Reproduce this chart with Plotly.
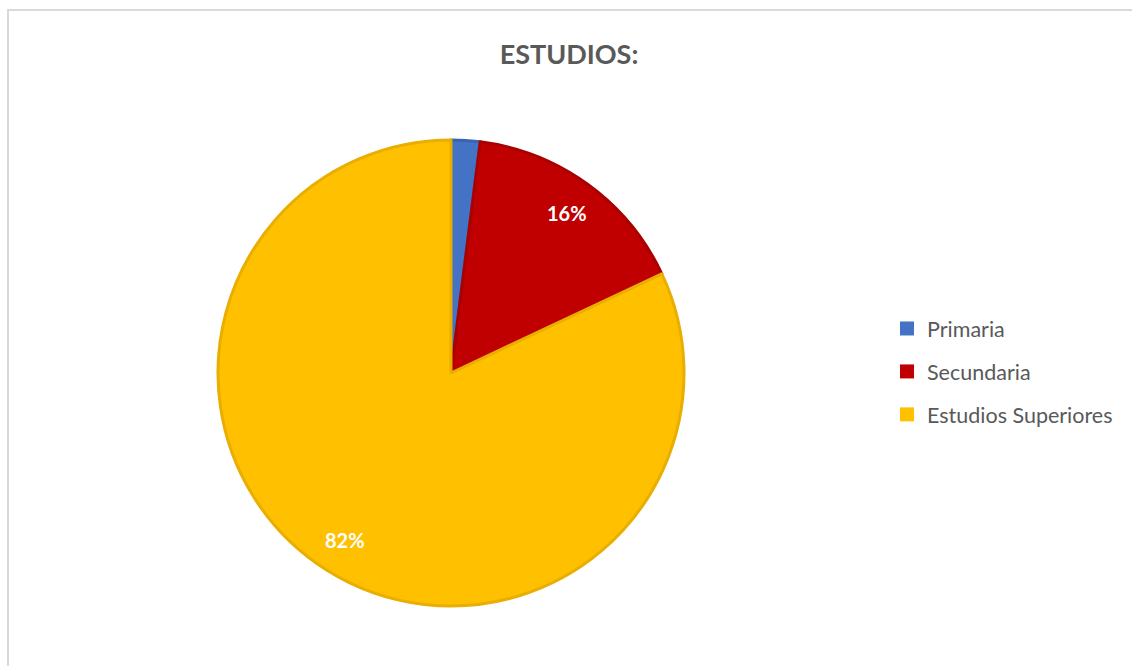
import math
import plotly.graph_objects as go

# Education level breakdown
categories = ["Primaria", "Secundaria", "Estudios Superiores"]
values = [2, 16, 82]
slice_colors = ["#4472C4", "#C00000", "#FFC000"]
edge_colors = ["#3B64B0", "#A90000", "#E9AE00"]

W, H = 1132, 666
cx, cy, r = 451, 373, 233  # pie centre and radius in pixels

fig = go.Figure()
fig.add_trace(go.Pie(
    labels=categories,
    values=values,
    sort=False,
    direction="clockwise",
    rotation=0,
    marker=dict(colors=slice_colors, line=dict(color=edge_colors, width=3)),
    textinfo="none",
    showlegend=False,
    domain=dict(x=[(cx - r) / W, (cx + r) / W], y=[(H - cy - r) / H, (H - cy + r) / H]),
    hoverinfo="label+percent",
))

# Percentage labels placed along each slice's mid-angle, near the rim
total = sum(values)
annotations = []
cum = 0
for v in values:
    frac = v / total
    mid = (cum + frac / 2) * 2 * math.pi  # clockwise from 12 o'clock
    cum += frac
    if frac < 0.05:
        continue
    px = cx + 0.85 * r * math.sin(mid)
    py = cy - 0.85 * r * math.cos(mid)
    annotations.append(dict(
        x=px / W, y=1 - py / H, xref="paper", yref="paper",
        xanchor="center", yanchor="middle",
        text=f"<b>{round(frac * 100)}%</b>", showarrow=False,
        font=dict(family="Lato", size=20, color="white"),
    ))

# Legend entries drawn as square markers, one group each for spacing
for name, col in zip(categories, slice_colors):
    fig.add_trace(go.Scatter(
        x=[None], y=[None], mode="markers", name=name,
        marker=dict(symbol="square", size=14, color=col),
        legendgroup=name, showlegend=True,
    ))

fig.update_layout(
    width=W, height=H,
    margin=dict(l=0, r=0, t=0, b=0),
    paper_bgcolor="white", plot_bgcolor="white",
    xaxis=dict(visible=False), yaxis=dict(visible=False),
    title=dict(text="<b>ESTUDIOS:</b>", x=569 / W, xanchor="center", y=1 - 55 / H, yanchor="middle",
               font=dict(family="Lato", size=27, color="#595959")),
    legend=dict(x=887 / W, xanchor="left", y=1 - 308 / H, yanchor="top",
                font=dict(family="Lato", size=21.5, color="#595959"),
                tracegroupgap=12, itemclick=False, bgcolor="rgba(0,0,0,0)"),
    annotations=annotations,
    shapes=[dict(type="rect", xref="paper", yref="paper",
                 x0=8 / W, x1=1.05, y0=-0.05, y1=1 - 10 / H,
                 line=dict(color="#D9D9D9", width=2), fillcolor="rgba(0,0,0,0)", layer="below")],
)

fig.write_html("out.html")
